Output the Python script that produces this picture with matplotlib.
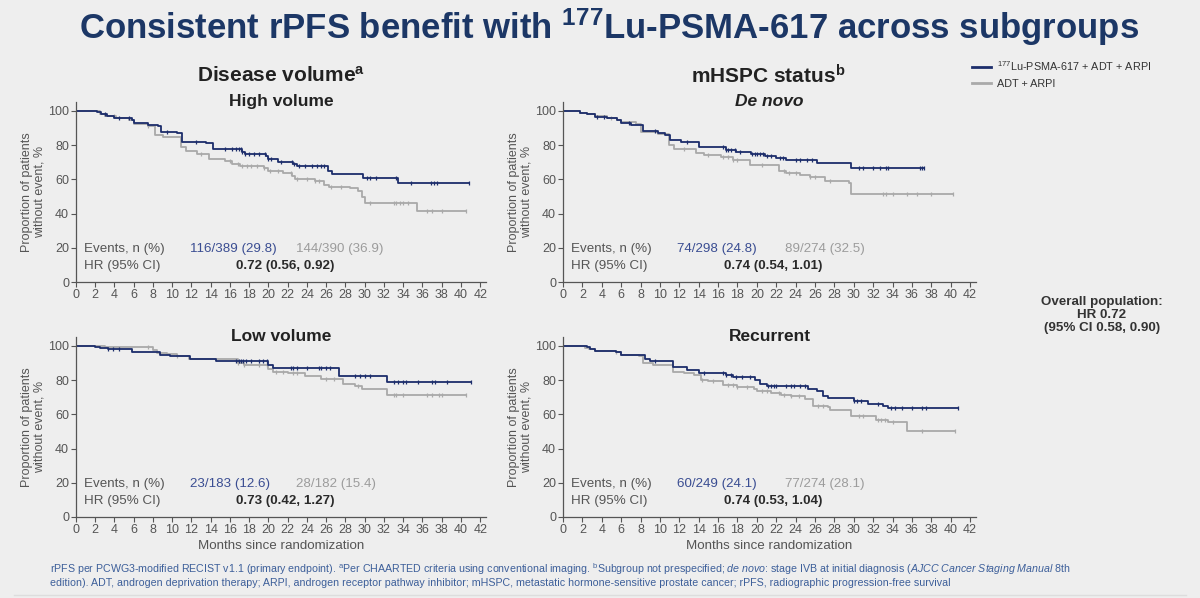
import matplotlib
matplotlib.use("Agg")
import matplotlib.pyplot as plt
import numpy as np
from matplotlib.lines import Line2D

plt.rcParams["font.family"] = ["Liberation Sans", "DejaVu Sans"]
plt.rcParams["mathtext.fontset"] = "custom"
plt.rcParams["mathtext.rm"] = "Liberation Sans"
plt.rcParams["mathtext.it"] = "Liberation Sans:italic"
plt.rcParams["mathtext.bf"] = "Liberation Sans:bold"

# ── Data ─────────────────────────────────────────────────────────────────────

# High volume
hv_lu_t = [0, 2.2, 2.6, 3.2, 4.0, 5.8, 6.0, 7.5, 8.5, 8.8, 10.5, 11.0, 13.5, 14.2,
           17.3, 17.6, 19.7, 20.0, 21.0, 22.5, 23.0, 26.2, 26.6, 29.8, 33.5, 40.8]
hv_lu_s = [100, 99.5, 98.5, 97, 96, 95, 92.8, 92, 91, 88, 87, 82, 81, 77.6,
           76, 74.8, 73.5, 72, 70, 69, 67.8, 65, 63, 60.8, 58, 58]
hv_ctl_t = [0, 2.5, 3.0, 4.2, 5.5, 6.0, 7.5, 8.2, 9.0, 10.9, 11.4, 12.6, 13.8, 15.5,
            16.2, 17.0, 19.5, 20.0, 21.5, 22.4, 22.8, 24.8, 25.8, 26.3, 28.5, 29.3,
            29.7, 30.0, 35.4, 40.5]
hv_ctl_s = [100, 98, 96.8, 96, 95, 92.5, 91.5, 86, 84.5, 79, 76.5, 75, 72, 71,
            69, 68, 66.5, 65, 64, 62, 60.5, 59, 57, 55.7, 55, 53, 50, 46, 41.5, 41.5]
hv_lu_cens = [3.0, 4.5, 5.5, 9.5, 12.5, 15.5, 16.2, 16.6, 16.9, 17.1, 17.3, 17.6, 18.0,
              18.5, 19.0, 19.6, 20.0, 20.3, 21.3, 22.4, 22.7, 23.2, 23.8, 24.5, 25.0,
              25.5, 25.8, 30.2, 30.5, 31.2, 33.3, 34.8, 36.9, 37.2, 37.5, 40.8]
hv_ctl_cens = [4.0, 7.5, 13.0, 16.0, 16.8, 17.3, 17.8, 18.2, 18.8, 19.5, 20.2, 21.0,
               22.3, 23.0, 24.0, 24.8, 25.3, 26.5, 27.5, 30.5, 33.0, 33.3, 33.7, 34.0,
               34.5, 36.5, 37.0, 38.0, 40.5]

# De novo
dn_lu_t = [0, 1.7, 2.5, 3.3, 4.5, 5.6, 6.0, 7.0, 8.3, 9.8, 10.5, 11.0, 12.2, 14.0,
           16.8, 17.8, 19.4, 20.8, 22.0, 23.0, 26.2, 29.7, 37.3]
dn_lu_s = [100, 99, 98, 96.7, 95.8, 94.8, 93, 92, 88.3, 87, 86, 83, 82, 79,
           77.3, 76.3, 74.8, 73.8, 72.8, 71.5, 69.5, 66.5, 66.5]
dn_ctl_t = [0, 1.7, 2.5, 3.3, 4.5, 5.6, 6.0, 7.5, 8.0, 9.8, 10.9, 11.4, 13.7, 14.5,
            16.3, 17.5, 19.3, 22.3, 23.0, 24.5, 25.5, 27.0, 29.5, 29.7, 40.2]
dn_ctl_s = [100, 99, 98, 97, 96, 95, 93.5, 92.5, 87.5, 86.5, 80, 78, 75.3, 74,
            73, 71.3, 68.5, 65, 63.5, 62.5, 61.3, 59, 58, 51.5, 51.5]
dn_lu_cens = [3.5, 4.2, 6.8, 9.5, 12.8, 16.5, 16.8, 17.0, 17.3, 17.7, 18.3, 19.5, 19.8,
              20.0, 20.3, 20.6, 21.0, 21.5, 22.4, 22.7, 24.0, 24.5, 25.2, 25.7, 30.5,
              31.0, 32.0, 32.7, 33.3, 33.5, 36.8, 37.0, 37.3]
dn_ctl_cens = [5.0, 12.5, 15.0, 16.5, 17.0, 17.5, 18.0, 20.5, 22.8, 23.3, 24.0, 25.5,
               26.0, 27.5, 33.0, 33.3, 34.0, 35.5, 36.5, 38.0, 40.2]

# Low volume
lv_lu_t = [0, 2.0, 2.5, 3.3, 5.8, 8.7, 9.8, 11.8, 14.5, 20.0, 20.5, 27.3, 32.3, 41.0]
lv_lu_s = [100, 99.5, 99, 98, 96.3, 94.5, 94, 92.2, 91.3, 89, 87, 82.2, 79.2, 79.2]
lv_ctl_t = [0, 3.0, 8.0, 8.4, 9.5, 10.5, 11.7, 16.8, 17.5, 20.0, 20.5, 22.0, 23.8,
            25.5, 27.7, 29.0, 29.7, 32.3, 40.5]
lv_ctl_s = [100, 99.5, 97.5, 96, 95, 94, 92.2, 90, 89, 86.5, 85, 84, 82.7,
            80.5, 77.6, 76.5, 75, 71.5, 71.5]
lv_lu_cens = [3.3, 3.8, 4.5, 16.6, 16.9, 17.1, 17.4, 17.7, 18.2, 19.0, 19.4, 19.8, 22.3,
              22.5, 23.0, 24.0, 25.2, 25.5, 26.0, 26.4, 29.0, 29.5, 30.0, 30.6, 33.0,
              33.5, 34.0, 34.3, 35.5, 37.0, 37.3, 38.5, 41.0]
lv_ctl_cens = [7.5, 10.5, 16.8, 17.5, 19.0, 19.8, 20.8, 21.5, 22.5, 23.0, 26.0, 26.8,
               29.3, 33.0, 33.3, 34.0, 36.5, 37.0, 37.7, 38.0, 40.5]

# Recurrent
rc_lu_t = [0, 2.5, 2.8, 3.3, 5.5, 6.0, 8.5, 9.0, 11.3, 12.8, 14.0, 16.8, 17.5, 19.8,
           20.3, 21.0, 25.3, 26.2, 26.8, 27.3, 30.0, 31.5, 33.0, 33.5, 40.8]
rc_lu_s = [100, 99.2, 98, 97.3, 96.5, 94.8, 92.4, 91.2, 87.4, 86, 84.4, 83, 82, 80.2,
           78, 76.5, 75, 73.5, 71, 69.5, 68, 66, 65, 63.8, 63.8]
rc_ctl_t = [0, 2.3, 2.7, 3.3, 5.5, 6.0, 7.8, 8.3, 9.3, 11.3, 12.5, 13.5, 14.2, 15.0,
            16.5, 18.0, 19.7, 20.0, 21.5, 22.5, 23.5, 25.0, 25.8, 27.3, 27.6, 29.7,
            32.3, 33.5, 35.5, 40.5]
rc_ctl_s = [100, 99, 98, 97, 96.5, 94.5, 94, 90.3, 89, 85, 84, 83, 80.2, 79.5,
            77, 76, 75, 73.5, 72.5, 71.5, 70.5, 69, 65, 64.5, 62.5, 59,
            56.8, 55.8, 50.5, 50.5]
rc_lu_cens = [9.5, 14.5, 16.5, 16.8, 17.3, 17.8, 18.5, 19.3, 21.2, 21.5, 21.8, 22.0,
              23.0, 23.5, 23.8, 24.5, 25.0, 30.0, 30.3, 30.7, 32.5, 33.8, 34.3, 35.0,
              36.0, 37.0, 37.5, 40.8]
rc_ctl_cens = [5.5, 14.3, 15.5, 17.0, 17.5, 18.0, 19.0, 20.5, 21.0, 22.3, 22.8, 23.5,
               24.3, 26.3, 26.8, 30.5, 31.0, 32.5, 32.8, 33.2, 34.0, 37.0, 40.5]

subgroups = ["High volume", "De novo", "Low volume", "Recurrent"]
events_lu = ["116/389 (29.8)", "74/298 (24.8)", "23/183 (12.6)", "60/249 (24.1)"]
events_ctl = ["144/390 (36.9)", "89/274 (32.5)", "28/182 (15.4)", "77/274 (28.1)"]
hr_text = ["0.72 (0.56, 0.92)", "0.74 (0.54, 1.01)", "0.73 (0.42, 1.27)", "0.74 (0.53, 1.04)"]

x_ticks = list(range(0, 43, 2))
y_ticks = [0, 20, 40, 60, 80, 100]

# ── Styling ──────────────────────────────────────────────────────────────────

BG = "#eeeeee"
NAVY = "#1c3766"
LU_COL = "#1c2d6b"
CTL_COL = "#a9a9a9"
AX_COL = "#555555"


def surv_at(t, s, x):
    idx = np.searchsorted(np.asarray(t), np.asarray(x), side="right") - 1
    return np.asarray(s)[idx]


def draw_km(ax, lu_t, lu_s, ctl_t, ctl_s, lu_c, ctl_c, k):
    ax.step(ctl_t, ctl_s, where="post", color=CTL_COL, lw=1.3)
    ax.plot(ctl_c, surv_at(ctl_t, ctl_s, ctl_c), ls="none", marker="|",
            ms=3.5, mew=0.9, color=CTL_COL)
    ax.step(lu_t, lu_s, where="post", color=LU_COL, lw=1.3)
    ax.plot(lu_c, surv_at(lu_t, lu_s, lu_c), ls="none", marker="|",
            ms=3.5, mew=0.9, color=LU_COL)

    ax.set_xlim(0, 42.6)
    ax.set_ylim(0, 105)
    ax.set_xticks(x_ticks)
    ax.set_yticks(y_ticks)
    ax.set_facecolor(BG)
    for sp in ("top", "right"):
        ax.spines[sp].set_visible(False)
    for sp in ("left", "bottom"):
        ax.spines[sp].set_color(AX_COL)
        ax.spines[sp].set_linewidth(0.9)
    ax.tick_params(colors=AX_COL, labelsize=9, length=3.5, width=0.8, pad=1.5)
    ax.set_ylabel("Proportion of patients\nwithout event, %", fontsize=9,
                  color=AX_COL, labelpad=2, linespacing=1.05)

    fs = 9.6
    ax.text(0.8, 19.5, "Events, n (%)", fontsize=fs, color=AX_COL, va="center")
    ax.text(11.8, 19.5, events_lu[k], fontsize=fs, color="#3a4d92", va="center")
    ax.text(22.9, 19.5, events_ctl[k], fontsize=fs, color="#9c9c9c", va="center")
    ax.text(0.8, 9.2, "HR (95% CI)", fontsize=fs, color=AX_COL, va="center")
    ax.text(16.6, 9.2, hr_text[k], fontsize=fs, color="#2a2a2a",
            fontweight="bold", va="center")


fig = plt.figure(figsize=(12, 5.98), dpi=100, facecolor=BG)

W_L, W_R, H = 0.3417, 0.344, 0.3003
rects = [
    [0.0633, 0.5284, W_L, H],
    [0.4692, 0.5284, W_R, H],
    [0.0633, 0.1355, W_L, H],
    [0.4692, 0.1355, W_R, H],
]
series = [
    (hv_lu_t, hv_lu_s, hv_ctl_t, hv_ctl_s, hv_lu_cens, hv_ctl_cens),
    (dn_lu_t, dn_lu_s, dn_ctl_t, dn_ctl_s, dn_lu_cens, dn_ctl_cens),
    (lv_lu_t, lv_lu_s, lv_ctl_t, lv_ctl_s, lv_lu_cens, lv_ctl_cens),
    (rc_lu_t, rc_lu_s, rc_ctl_t, rc_ctl_s, rc_lu_cens, rc_ctl_cens),
]
axes = []
for k, (r, d) in enumerate(zip(rects, series)):
    ax = fig.add_axes(r)
    draw_km(ax, *d, k)
    axes.append(ax)

for ax in axes[2:]:
    ax.set_xlabel("Months since randomization", fontsize=9.6, color=AX_COL, labelpad=3)

# Subgroup titles
for k, ax in enumerate(axes):
    style = "italic" if subgroups[k] == "De novo" else "normal"
    ax.text(0.5, 1.005, subgroups[k], transform=ax.transAxes,
            ha="center", va="center", fontsize=12.5, fontweight="bold",
            fontstyle=style, color="#222222")

# Column headers
fig.text(281 / 1200, 1 - 76 / 598, r"Disease volume$\mathregular{^a}$", ha="center",
         va="center", fontsize=15, fontweight="bold", color="#222222")
fig.text(768 / 1200, 1 - 76 / 598, r"mHSPC status$\mathregular{^b}$", ha="center",
         va="center", fontsize=15, fontweight="bold", color="#222222")

# Main title
fig.text(0.5075, 1 - 27 / 598,
         r"Consistent rPFS benefit with $\mathregular{^{177}}$Lu-PSMA-617 across subgroups",
         ha="center", va="center", fontsize=25, fontweight="bold", color=NAVY)

# Legend
handles = [Line2D([], [], color=LU_COL, lw=2),
           Line2D([], [], color=CTL_COL, lw=2)]
labels = [r"$\mathregular{^{177}}$Lu-PSMA-617 + ADT + ARPI", "ADT + ARPI"]
fig.legend(handles, labels, loc="upper left", bbox_to_anchor=(0.802, 0.918),
           frameon=False, fontsize=7.8, handlelength=1.7, handletextpad=0.6,
           labelspacing=0.55, labelcolor="#333333")

# Overall population box
fig.text(1102 / 1200, 1 - 315 / 598,
         "Overall population:\nHR 0.72\n(95% CI 0.58, 0.90)",
         ha="center", va="center", fontsize=9.6, fontweight="bold",
         color="#333333", linespacing=1.15)

# Footnotes
FOOT = "#3d5f9a"
fig.text(50 / 1200, 1 - 569 / 598,
         r"rPFS per PCWG3-modified RECIST v1.1 (primary endpoint). "
         r"$\mathregular{^a}$Per CHAARTED criteria using conventional imaging. "
         r"$\mathregular{^b}$Subgroup not prespecified; $\mathit{de\ novo}$: stage IVB at "
         r"initial diagnosis ($\mathit{AJCC\ Cancer\ Staging\ Manual}$ 8th",
         ha="left", va="center", fontsize=7.7, color=FOOT)
fig.text(50 / 1200, 1 - 583 / 598,
         "edition). ADT, androgen deprivation therapy; ARPI, androgen receptor pathway "
         "inhibitor; mHSPC, metastatic hormone-sensitive prostate cancer; rPFS, "
         "radiographic progression-free survival",
         ha="left", va="center", fontsize=7.7, color=FOOT)
fig.add_artist(Line2D([0.012, 0.988], [1 - 595 / 598] * 2, color="#dddddd", lw=1))

fig.savefig("out.png", dpi=100, facecolor=BG)
